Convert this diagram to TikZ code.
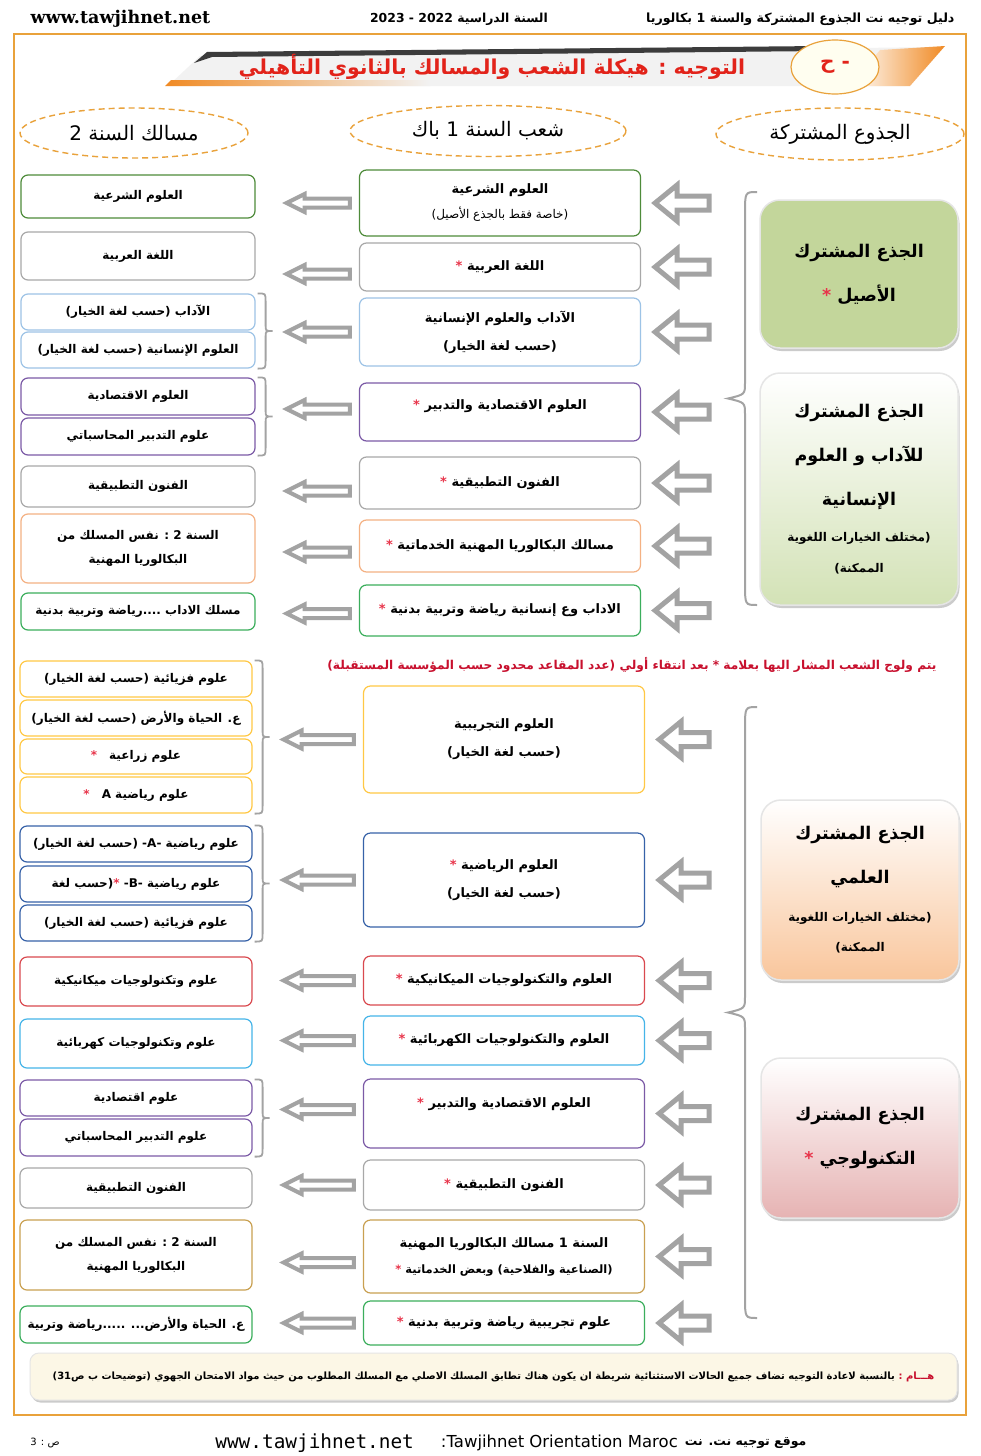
\documentclass[tikz,border=0pt]{standalone}
\usepackage{fontspec}
\setmainfont{DejaVu Sans}
\newfontfamily\arabicfont[Script=Arabic]{DejaVu Sans}
\newfontfamily\webfont{DejaVu Serif}
\newfontfamily\footfont{DejaVu Sans Mono}
\TeXXeTstate=1
\usetikzlibrary{positioning,calc,shadows,shapes.geometric}
\definecolor{frame}{HTML}{E9A23B}
\definecolor{arrowgray}{HTML}{A3A3A3}
\definecolor{shgreen}{HTML}{4E8B3A}
\definecolor{boxgray}{HTML}{A8A8A8}
\definecolor{skyline}{HTML}{9DC3E6}
\definecolor{plum}{HTML}{7B5AA6}
\definecolor{peach}{HTML}{F4B183}
\definecolor{sportgreen}{HTML}{3BAE5C}
\definecolor{amber}{HTML}{FFC845}
\definecolor{navy}{HTML}{3762A8}
\definecolor{brick}{HTML}{D9494F}
\definecolor{cyanline}{HTML}{45B4E8}
\definecolor{goldline}{HTML}{C9A051}
\definecolor{asil}{HTML}{C3D69B}
\definecolor{adab}{HTML}{D3E2B6}
\definecolor{ilmi}{HTML}{F9C69C}
\definecolor{tech}{HTML}{E6B3B3}
\definecolor{notered}{HTML}{C8102E}
\definecolor{titlered}{HTML}{E2231A}
\definecolor{starred}{HTML}{E8344A}
\definecolor{cream}{HTML}{FCF7E6}
\definecolor{darkband}{HTML}{3C3C3C}
\definecolor{bandorange}{HTML}{F08A24}
\newcommand\artxt[1]{{\arabicfont\beginR #1\endR}}
% red star kept outside the right-to-left run
\newcommand\withstar[1]{\textcolor{starred}{*} \artxt{#1}}
\newcommand\leftfont{\arabicfont\bfseries\fontsize{12}{24}\selectfont}
\newcommand\midfont{\arabicfont\bfseries\fontsize{13}{28}\selectfont}
\newcommand\trunkfont{\arabicfont\bfseries\fontsize{17.5}{44}\selectfont}
\newcommand\smallline{\fontsize{12}{14}\selectfont}

\begin{document}
\begin{tikzpicture}[x=1pt,y=-1pt,
  lbox/.style={draw=#1, fill=white, line width=1.2pt, rounded corners=7pt,
    minimum width=234, inner sep=1pt, align=center, font=\leftfont},
  mbox/.style={lbox=#1, minimum width=281, font=\midfont},
  trunk/.style={draw=white!80!gray, line width=1.5pt, rounded corners=20pt,
    minimum width=198, align=center, font=\trunkfont,
    drop shadow={shadow xshift=1.5pt, shadow yshift=-3pt, fill=black!40}},
  header/.style={draw=frame, dash pattern=on 6pt off 4pt, line width=1.4pt, ellipse, inner sep=0pt,
    font=\arabicfont\fontsize{20}{22}\selectfont},
  harrowL/.style={draw=arrowgray, fill=white, line width=4pt, line join=miter,
    to path={let \p1=(\tikztostart), \p2=(\tikztotarget) in
      (\x1-9pt,\y1+4.5pt) -- (\x2+49pt,\y1+4.5pt) -- (\x2+49pt,\y1+9pt) -- (\x2+31pt,\y1)
      -- (\x2+49pt,\y1-9pt) -- (\x2+49pt,\y1-4.5pt) -- (\x1-9pt,\y1-4.5pt) -- cycle}},
  harrowR/.style={draw=arrowgray, fill=white, line width=5pt, line join=miter,
    to path={let \p1=(\tikztostart), \p2=(\tikztotarget) in
      (\x1-3pt,\y1+7pt) -- (\x2+36pt,\y1+7pt) -- (\x2+36pt,\y1+18pt) -- (\x2+14pt,\y1)
      -- (\x2+36pt,\y1-18pt) -- (\x2+36pt,\y1-7pt) -- (\x1-3pt,\y1-7pt) -- cycle}},
  sbrace/.style={draw=arrowgray, line width=1.8pt,
    to path={let \p1=(\tikztostart), \p2=(\tikztotarget),
      \p3=($(\tikztostart)!0.5!(\tikztotarget)$) in
      (\x1+2pt,\y1) .. controls (\x1+10pt,\y1) .. (\x1+10pt,\y1-8pt) -- (\x1+10pt,\y3+6pt)
      .. controls (\x1+10pt,\y3) .. (\x1+17pt,\y3) .. controls (\x1+10pt,\y3) .. (\x1+10pt,\y3-6pt)
      -- (\x1+10pt,\y2+8pt) .. controls (\x1+10pt,\y2) .. (\x1+2pt,\y2)}},
  bbrace/.style={draw=arrowgray, line width=2pt,
    to path={let \p1=(\tikztostart), \p2=(\tikztotarget),
      \p3=($(\tikztostart)!0.5!(\tikztotarget)$) in
      (\x1+12pt,\y1) .. controls (\x1,\y1) .. (\x1,\y1-22pt) -- (\x1,\y3+16pt)
      .. controls (\x1,\y3+4pt) .. (\x1-17pt,\y3) .. controls (\x1,\y3-4pt) .. (\x1,\y3-16pt)
      -- (\x1,\y2+22pt) .. controls (\x1,\y2) .. (\x1+12pt,\y2)}}]
  \fill[white] (0,0) rectangle (980,1456);
  \path[use as bounding box] (0,0) rectangle (980,1456);

  % page header and frame
  \node[anchor=west, font=\webfont\bfseries\fontsize{17.5}{18}\selectfont] (site) at (27,19) {www.tawjihnet.net};
  \node[font=\arabicfont\bfseries\fontsize{12.4}{13}\selectfont] (year) at (459,19) {\artxt{السنة الدراسية  2022 - 2023}};
  \node[anchor=east, font=\arabicfont\bfseries\fontsize{12.6}{13}\selectfont] (guide) at (958,19) {\artxt{دليل توجيه نت الجذوع المشتركة والسنة 1 بكالوريا}};
  \draw[frame, line width=1.6pt] (14,34) rectangle (966,1415);

  % title ribbon
  \fill[gray!10] (168,86) -- (200,56) -- (940,47) -- (905,86) -- cycle;
  \fill[darkband] (194,63) -- (207,52) -- (820,46) -- (822,51) -- (212,57) -- cycle;
  \shade[left color=bandorange, right color=gray!10] (165,86) -- (171,80) -- (430,80) -- (430,86) -- cycle;
  \shade[left color=white, right color=bandorange] (850,86) -- (880,50) -- (945,46) -- (910,86) -- cycle;
  \node[draw=frame, line width=1.2pt, ellipse, fill=yellow!6, minimum width=88, minimum height=54,
    font=\arabicfont\bfseries\fontsize{20}{22}\selectfont, text=titlered] (num) at (835,67) {\artxt{- ح}};
  \node[font=\arabicfont\bfseries\fontsize{20.5}{22}\selectfont, text=titlered] (title) at (492,67)
    {\artxt{التوجيه : هيكلة الشعب والمسالك  بالثانوي التأهيلي}};

  % column heads
  \node[header, minimum width=228, minimum height=50] (h2) at (134,133) {\artxt{مسالك السنة 2}};
  \node[header, minimum width=276, minimum height=51] (h1) at (488,131) {\artxt{شعب السنة 1 باك}};
  \node[header, minimum width=248, minimum height=52] (h0) at (840,134) {\artxt{الجذوع المشتركة}};

  % upper block: second-year tracks
  \node[lbox=shgreen, minimum height=43] (L1) at (138,196.5) {\artxt{العلوم الشرعية}};
  \node[lbox=boxgray, minimum height=48] (L2) at (138,256) {\artxt{اللغة العربية}};
  \node[lbox=skyline, minimum height=36] (L3a) at (138,312) {\artxt{الآداب (حسب لغة الخيار)}};
  \node[lbox=skyline, minimum height=36] (L3b) at (138,350) {\artxt{العلوم الإنسانية (حسب لغة الخيار)}};
  \node[lbox=plum, minimum height=37] (L4a) at (138,396.5) {\artxt{العلوم الاقتصادية}};
  \node[lbox=plum, minimum height=37] (L4b) at (138,436.5) {\artxt{علوم التدبير المحاسباتي}};
  \node[lbox=boxgray, minimum height=41] (L5) at (138,486.5) {\artxt{الفنون التطبيقية}};
  \node[lbox=peach, minimum height=69] (L6) at (138,548.5) {\artxt{السنة 2 : نفس المسلك من}\\\artxt{البكالوريا المهنية}};
  \node[lbox=sportgreen, minimum height=37] (L7) at (138,611.5) {\artxt{مسلك الاداب ....رياضة وتربية بدنية}};

  % upper block: first-year branches
  \node[mbox=shgreen, minimum height=66] (M1) at (500,203) {\artxt{العلوم الشرعية}\\[-3pt]{\mdseries\fontsize{12}{13}\selectfont\artxt{(خاصة فقط بالجذع الأصيل)}}};
  \node[mbox=boxgray, minimum height=48] (M2) at (500,267) {\withstar{اللغة العربية}};
  \node[mbox=skyline, minimum height=68] (M3) at (500,332) {\artxt{الآداب والعلوم الإنسانية}\\\artxt{(حسب لغة الخيار)}};
  \node[mbox=plum, minimum height=58] (M4) at (500,412) {\withstar{العلوم الاقتصادية والتدبير}\\[-14pt]{}};
  \node[mbox=boxgray, minimum height=52] (M5) at (500,483) {\withstar{الفنون التطبيقية}};
  \node[mbox=peach, minimum height=52] (M6) at (500,546) {\withstar{مسالك البكالوريا المهنية الخدماتية}};
  \node[mbox=sportgreen, minimum height=51] (M7) at (500,610.5) {\withstar{الاداب وع إنسانية رياضة وتربية بدنية}};

  % upper block: common trunks
  \node[trunk, fill=asil, minimum height=148] (R1) at (859,274) {\artxt{الجذع  المشترك}\\\withstar{الأصيل}};
  \node[trunk, top color=white, bottom color=adab, minimum height=232] (R2) at (859,489)
    {\artxt{الجذع  المشترك}\\\artxt{للآداب و العلوم}\\\artxt{الإنسانية}\\[-8pt]
     {\smallline\artxt{(مختلف الخيارات اللغوية}}\\[-13pt]{\smallline\artxt{الممكنة)}}};

  \coordinate (ub1) at (745,192);
  \coordinate (ub2) at (745,605);
  \draw[bbrace] (ub1) to (ub2);
  \coordinate (rt) at (712,0);
  \foreach \m in {M1,M2,M3,M4,M5,M6,M7}
    \draw[harrowR] (\m.east -| rt) to (\m.east);

  \draw[sbrace] (L3a.north east) to (L3b.south east);
  \draw[sbrace] (L4a.north east) to (L4b.south east);
  \draw[harrowL] (M1.west) to (L1.east);
  \draw[harrowL] ([yshift=-7]M2.west) to (L2.east);
  \draw[harrowL] (M3.west) to (L3a.east);
  \draw[harrowL] ([yshift=3]M4.west) to (L4a.east);
  \draw[harrowL] ([yshift=-8]M5.west) to (L5.east);
  \draw[harrowL] ([yshift=-6]M6.west) to (L6.east);
  \draw[harrowL] ([yshift=-3]M7.west) to (L7.east);

  % selection rule
  \node[anchor=east, font=\arabicfont\bfseries\fontsize{12.2}{13}\selectfont, text=notered] (rule) at (940,665)
    {\artxt{يتم ولوج الشعب المشار اليها بعلامة  *  بعد انتقاء أولي (عدد المقاعد محدود  حسب المؤسسة المستقبلة)}};

  % lower block: second-year tracks
  \node[lbox=amber, minimum width=232, minimum height=36] (LL1a) at (136,679) {\artxt{علوم فزيائية (حسب لغة الخيار)}};
  \node[lbox=amber, minimum width=232, minimum height=36] (LL1b) at (136,718) {\artxt{ع. الحياة والأرض (حسب لغة الخيار)}};
  \node[lbox=amber, minimum width=232, minimum height=35] (LL1c) at (136,756.5) {\textcolor{starred}{*}\quad\artxt{علوم زراعية}};
  \node[lbox=amber, minimum width=232, minimum height=36] (LL1d) at (136,795) {\textcolor{starred}{*}\quad\artxt{علوم رياضية A}};
  \node[lbox=navy, minimum width=232, minimum height=36] (LL2a) at (136,844) {\artxt{علوم رياضية -A- (حسب لغة الخيار)}};
  \node[lbox=navy, minimum width=232, minimum height=36] (LL2b) at (136,884) {\artxt{(حسب لغة}\textcolor{starred}{*} \artxt{علوم رياضية -B-}};
  \node[lbox=navy, minimum width=232, minimum height=36] (LL2c) at (136,923) {\artxt{علوم فزيائية (حسب لغة الخيار)}};
  \node[lbox=brick, minimum width=232, minimum height=49] (LL3) at (136,981.5) {\artxt{علوم وتكنولوجيات ميكانيكية}};
  \node[lbox=cyanline, minimum width=232, minimum height=49] (LL4) at (136,1043.5) {\artxt{علوم وتكنولوجيات كهربائية}};
  \node[lbox=plum, minimum width=232, minimum height=36] (LL5a) at (136,1098) {\artxt{علوم اقتصادية}};
  \node[lbox=plum, minimum width=232, minimum height=37] (LL5b) at (136,1137.5) {\artxt{علوم التدبير المحاسباتي}};
  \node[lbox=boxgray, minimum width=232, minimum height=40] (LL6) at (136,1188) {\artxt{الفنون التطبيقية}};
  \node[lbox=goldline, minimum width=232, minimum height=70] (LL7) at (136,1255) {\artxt{السنة 2 : نفس المسلك من}\\\artxt{البكالوريا المهنية}};
  \node[lbox=sportgreen, minimum width=232, minimum height=37] (LL8) at (136,1324.5) {\artxt{ع. الحياة والأرض... .....رياضة وتربية}};

  % lower block: first-year branches
  \node[mbox=amber, minimum height=107] (LM1) at (504,739.5) {\artxt{العلوم التجريبية}\\\artxt{(حسب لغة الخيار)}};
  \node[mbox=navy, minimum height=94] (LM2) at (504,880) {\withstar{العلوم الرياضية}\\\artxt{(حسب لغة الخيار)}};
  \node[mbox=brick, minimum height=49] (LM3) at (504,980.5) {\withstar{العلوم والتكنولوجيات الميكانيكية}};
  \node[mbox=cyanline, minimum height=49] (LM4) at (504,1040.5) {\withstar{العلوم والتكنولوجيات الكهربائية}};
  \node[mbox=plum, minimum height=69] (LM5) at (504,1113.5) {\withstar{العلوم الاقتصادية والتدبير}\\[-6pt]{}};
  \node[mbox=boxgray, minimum height=50] (LM6) at (504,1185) {\withstar{الفنون التطبيقية}};
  \node[mbox=goldline, minimum height=73] (LM7) at (504,1256.5) {\artxt{السنة 1 مسالك البكالوريا المهنية}\\[-2pt]{\fontsize{11.5}{13}\selectfont\withstar{(الصناعية والفلاحية) وبعض الخدماتية}}};
  \node[mbox=sportgreen, minimum height=44] (LM8) at (504,1323) {\withstar{علوم تجريبية رياضة  وتربية بدنية}};

  % lower block: common trunks
  \node[trunk, top color=white, bottom color=ilmi, minimum height=180] (R3) at (860,890)
    {\artxt{الجذع  المشترك}\\\artxt{العلمي}\\[-6pt]
     {\smallline\artxt{(مختلف الخيارات اللغوية}}\\[-14pt]{\smallline\artxt{الممكنة)}}};
  \node[trunk, top color=white, bottom color=tech, minimum height=160] (R4) at (860,1138) {\artxt{الجذع  المشترك}\\\withstar{التكنولوجي}};

  \coordinate (lb1) at (745,707);
  \coordinate (lb2) at (745,1318);
  \draw[bbrace] (lb1) to (lb2);
  \foreach \m in {LM1,LM2,LM3,LM4,LM5,LM6,LM7,LM8}
    \draw[harrowR] (\m.east -| rt) to (\m.east);

  \draw[sbrace] (LL1a.north east) to (LL1d.south east);
  \draw[sbrace] (LL2a.north east) to (LL2c.south east);
  \draw[sbrace] (LL5a.north east) to (LL5b.south east);
  \draw[harrowL] (LM1.west) to (LL1a.east);
  \draw[harrowL] (LM2.west) to (LL2a.east);
  \draw[harrowL] (LM3.west) to (LL3.east);
  \draw[harrowL] (LM4.west) to (LL4.east);
  \draw[harrowL] ([yshift=4]LM5.west) to (LL5a.east);
  \draw[harrowL] (LM6.west) to (LL6.east);
  \draw[harrowL] ([yshift=-6]LM7.west) to (LL7.east);
  \draw[harrowL] (LM8.west) to (LL8.east);

  % note and footer
  \node[draw=white!80!gray, fill=cream, rounded corners=9pt, line width=1pt, minimum width=927, minimum height=47,
    drop shadow={shadow xshift=1.5pt, shadow yshift=-2.5pt, fill=black!40},
    font=\arabicfont\bfseries\fontsize{10}{12}\selectfont] (note) at (493.5,1376.5)
    {\artxt{بالنسبة لاعادة التوجيه تضاف جميع الحالات الاستثنائية شريطة ان يكون هناك تطابق المسلك الاصلي مع المسلك المطلوب من حيث مواد الامتحان الجهوي (توضيحات ب ص31)} \textcolor{notered}{\artxt{هـــام :}}};
  \node[anchor=east, font=\arabicfont\bfseries\fontsize{12.5}{14}\selectfont] (footar) at (810,1443) {\artxt{موقع توجيه نت. نت}};
  \node[anchor=east, font=\fontsize{16.5}{18}\selectfont] (footlat) at (footar.west) {:Tawjihnet Orientation Maroc};
  \node[anchor=east, font=\footfont\fontsize{19.4}{20}\selectfont] (footweb) at ([xshift=-20]footlat.west) {www.tawjihnet.net};
  \node[font=\arabicfont\fontsize{10}{11}\selectfont] (page) at (45,1443) {\artxt{ص : 3}};
\end{tikzpicture}
\end{document}
